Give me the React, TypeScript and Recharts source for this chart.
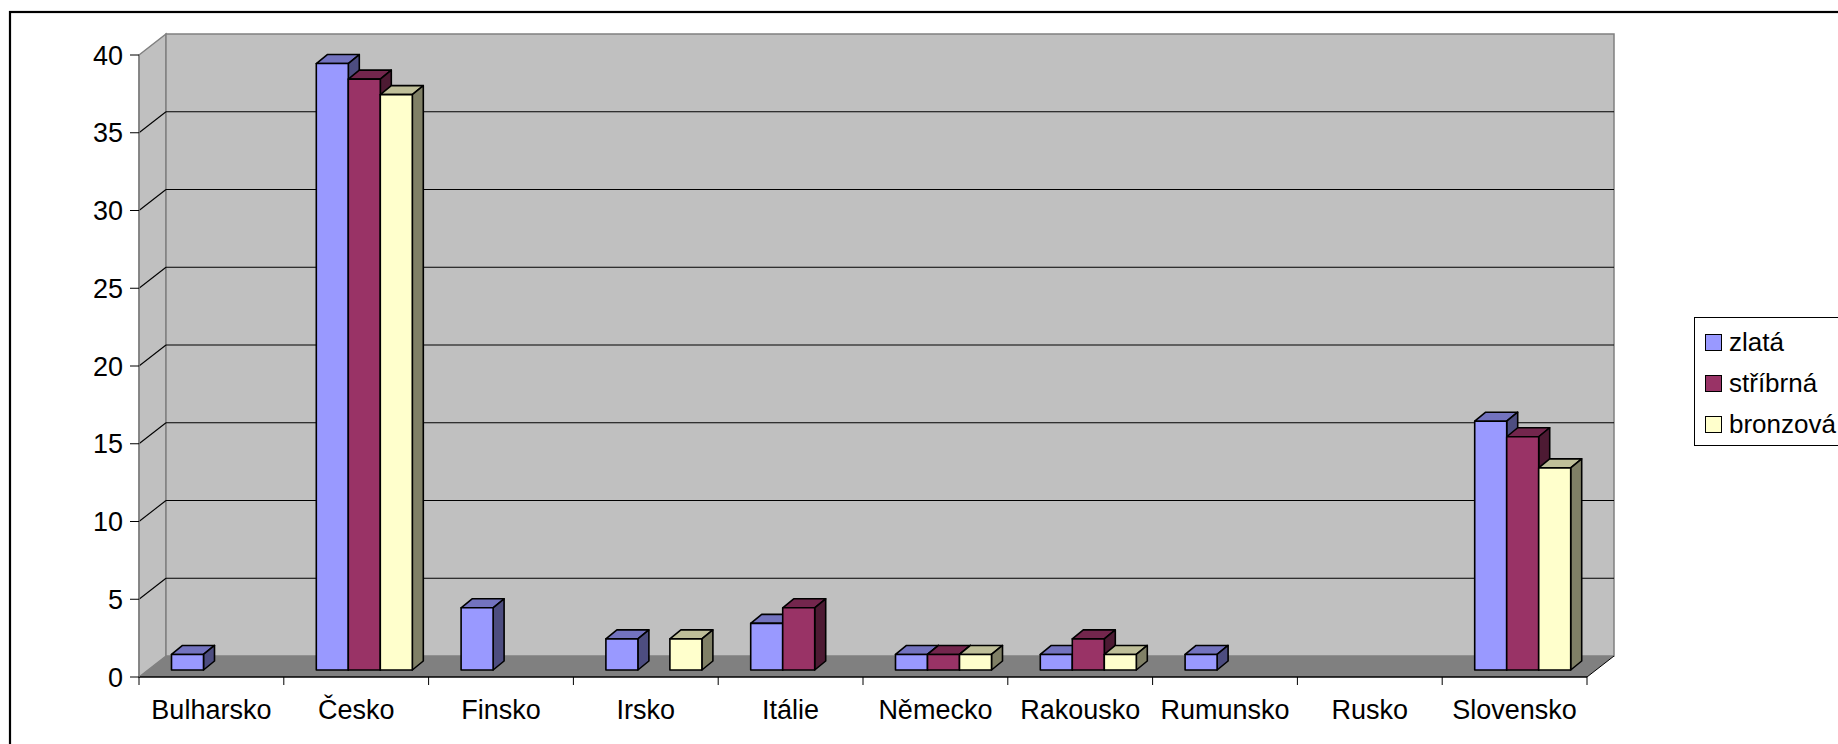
import React from "react";
import { BarChart, Bar, XAxis, YAxis, CartesianGrid, Legend } from "recharts";

const countries = [
  "Bulharsko",
  "Česko",
  "Finsko",
  "Irsko",
  "Itálie",
  "Německo",
  "Rakousko",
  "Rumunsko",
  "Rusko",
  "Slovensko",
];
const gold = [1, 39, 4, 2, 3, 1, 1, 1, 0, 16];
const silver = [0, 38, 0, 0, 4, 1, 2, 0, 0, 15];
const bronze = [0, 37, 0, 2, 0, 1, 1, 0, 0, 13];
const yTicks = [0, 5, 10, 15, 20, 25, 30, 35, 40];
const seriesNames = ["zlatá", "stříbrná", "bronzová"];

const data = countries.map((name, i) => ({
  name,
  zlata: gold[i],
  stribrna: silver[i],
  bronzova: bronze[i],
}));

const W = 1838;
const H = 744;
const FONT = "'Liberation Sans', Arial, sans-serif";
const FS = 27;

// front plane of the plot (where the axes are)
const LEFT = 139;
const RIGHT = 1587;
const TOP = 55;
const BOTTOM = 677;
// depth of the 3d box
const DX = 27;
const DY = -21;

const colors = {
  zlata: { front: "#9999FF", top: "#7373BF", side: "#4D4D80" },
  stribrna: { front: "#993366", top: "#73264D", side: "#4D1A33" },
  bronzova: { front: "#FFFFCC", top: "#BFBF99", side: "#808066" },
};

function Box3D(props: any) {
  const { x, y, width, height, c } = props;
  if (!height || height <= 0.5) return null;
  const fx = x + 8.5;
  const fy = y - 7;
  const dx = 11;
  const dy = -9;
  const w = width;
  const h = height;
  const sw = 1.6;
  return (
    <g strokeLinejoin="round">
      <polygon
        points={`${fx},${fy} ${fx + dx},${fy + dy} ${fx + w + dx},${fy + dy} ${fx + w},${fy}`}
        fill={c.top}
        stroke="#000"
        strokeWidth={sw}
      />
      <polygon
        points={`${fx + w},${fy} ${fx + w + dx},${fy + dy} ${fx + w + dx},${fy + h + dy} ${fx + w},${fy + h}`}
        fill={c.side}
        stroke="#000"
        strokeWidth={sw}
      />
      <rect x={fx} y={fy} width={w} height={h} fill={c.front} stroke="#000" strokeWidth={sw} />
    </g>
  );
}

function WallLine(props: any) {
  const { x1, y1, x2 } = props;
  if (Math.abs(y1 - BOTTOM) < 1 || Math.abs(y1 - TOP) < 1) return <g />;
  return (
    <g>
      <line x1={x1} y1={y1} x2={x1 + DX} y2={y1 + DY} stroke="#000" strokeWidth={1.1} />
      <line x1={x1 + DX} y1={y1 + DY} x2={x2 + DX} y2={y1 + DY} stroke="#000" strokeWidth={1.1} />
    </g>
  );
}

function CategoryTick(props: any) {
  const { x, y, payload, index, visibleTicksCount } = props;
  const half = payload && payload.offset != null ? payload.offset : (RIGHT - LEFT) / countries.length / 2;
  const axisY = y - 8 - 15;
  return (
    <g>
      <line x1={x - half} y1={axisY} x2={x - half} y2={axisY + 8} stroke="#000" />
      {index === visibleTicksCount - 1 && (
        <line x1={x + half} y1={axisY} x2={x + half} y2={axisY + 8} stroke="#000" />
      )}
      <text x={x} y={y} dy="0.71em" textAnchor="middle" fontSize={FS} fill="#000" fontFamily={FONT}>
        {payload.value}
      </text>
    </g>
  );
}

function LegendBox(props: any) {
  const items = [...(props.payload || [])].sort(
    (a: any, b: any) => seriesNames.indexOf(a.value) - seriesNames.indexOf(b.value)
  );
  return (
    <div
      style={{
        border: "1px solid #000",
        background: "#fff",
        paddingTop: 4,
        paddingBottom: 0,
        fontFamily: FONT,
        fontSize: 26,
        color: "#000",
      }}
    >
      {items.map((it: any) => (
        <div key={it.value} style={{ display: "flex", alignItems: "center", height: 41, paddingLeft: 10 }}>
          <span
            style={{
              display: "inline-block",
              width: 15,
              height: 15,
              background: it.color,
              border: "1.5px solid #000",
              marginRight: 7,
            }}
          />
          <span style={{ lineHeight: "41px", whiteSpace: "nowrap" }}>{it.value}</span>
        </div>
      ))}
    </div>
  );
}

export default function App() {
  return (
    <div style={{ position: "relative", width: W, height: H, overflow: "hidden", background: "#fff" }}>
      <style>{"body{margin:0;overflow:hidden}"}</style>
      <svg width={W} height={H} style={{ position: "absolute", left: 0, top: 0 }}>
        <rect x={10} y={12} width={2000} height={1000} fill="none" stroke="#000" strokeWidth={2.2} />
        {/* side wall */}
        <polygon
          points={`${LEFT},${TOP} ${LEFT + DX},${TOP + DY} ${LEFT + DX},${BOTTOM + DY} ${LEFT},${BOTTOM}`}
          fill="#C0C0C0"
          stroke="#808080"
          strokeWidth={1.5}
        />
        {/* back wall */}
        <rect
          x={LEFT + DX}
          y={TOP + DY}
          width={RIGHT - LEFT}
          height={BOTTOM - TOP}
          fill="#C0C0C0"
          stroke="#808080"
          strokeWidth={1.5}
        />
        {/* floor */}
        <polygon
          points={`${LEFT},${BOTTOM} ${RIGHT},${BOTTOM} ${RIGHT + DX},${BOTTOM + DY} ${LEFT + DX},${BOTTOM + DY}`}
          fill="#808080"
        />
        <line x1={RIGHT} y1={BOTTOM} x2={RIGHT + DX} y2={BOTTOM + DY} stroke="#000" strokeWidth={1} />
      </svg>
      <div style={{ position: "absolute", left: 0, top: 0 }}>
        <BarChart
          width={W}
          height={H}
          data={data}
          margin={{ top: TOP, right: W - RIGHT, bottom: H - BOTTOM - 40, left: LEFT - 60 }}
          barGap={0}
          barSize={32}
        >
          <CartesianGrid vertical={false} horizontal={(p: any) => <WallLine {...p} />} />
          <XAxis
            dataKey="name"
            height={40}
            tickSize={8}
            tickMargin={15}
            interval={0}
            axisLine={{ stroke: "#000", strokeWidth: 1.5 }}
            tickLine={false}
            tick={(p: any) => <CategoryTick {...p} />}
          />
          <YAxis
            domain={[0, 40]}
            ticks={yTicks}
            interval={0}
            width={60}
            tickSize={9}
            tickMargin={7}
            axisLine={{ stroke: "#808080", strokeWidth: 1.5 }}
            tickLine={{ stroke: "#000" }}
            tick={{ fontSize: FS, fill: "#000", fontFamily: FONT }}
          />
          <Legend
            layout="horizontal"
            align="center"
            verticalAlign="middle"
            wrapperStyle={{ left: 1694, top: 317, width: 170 }}
            content={(p: any) => <LegendBox {...p} />}
          />
          <Bar
            dataKey="zlata"
            name={seriesNames[0]}
            fill={colors.zlata.front}
            isAnimationActive={false}
            shape={(p: any) => <Box3D {...p} c={colors.zlata} />}
          />
          <Bar
            dataKey="stribrna"
            name={seriesNames[1]}
            fill={colors.stribrna.front}
            isAnimationActive={false}
            shape={(p: any) => <Box3D {...p} c={colors.stribrna} />}
          />
          <Bar
            dataKey="bronzova"
            name={seriesNames[2]}
            fill={colors.bronzova.front}
            isAnimationActive={false}
            shape={(p: any) => <Box3D {...p} c={colors.bronzova} />}
          />
        </BarChart>
      </div>
    </div>
  );
}
